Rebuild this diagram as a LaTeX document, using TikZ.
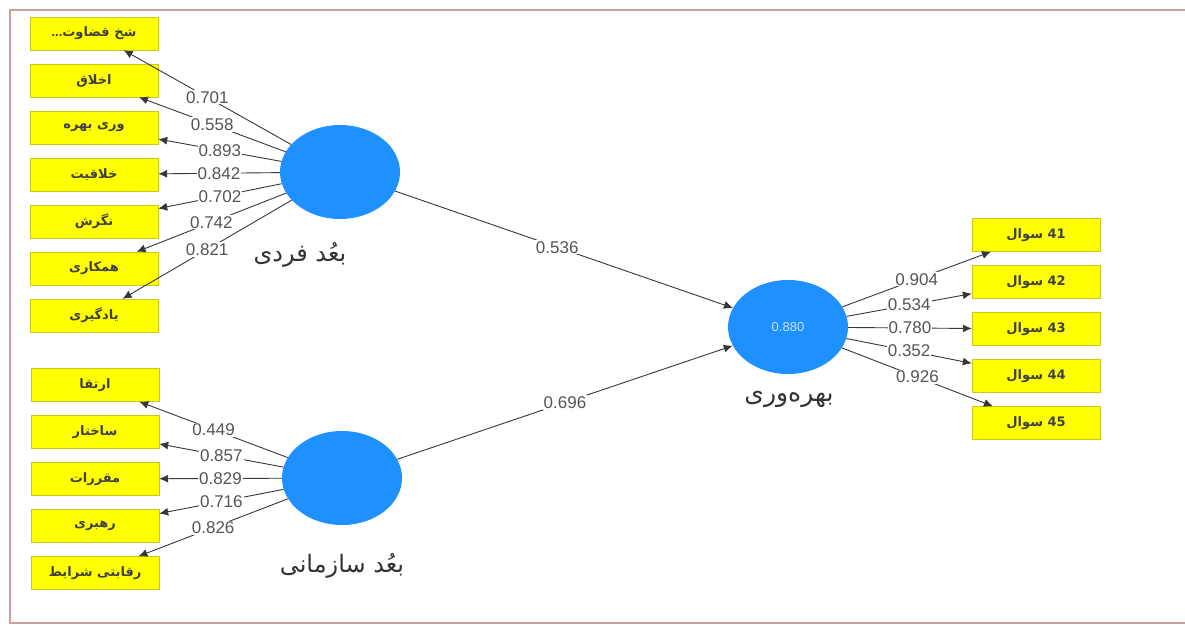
\documentclass[tikz,border=0pt]{standalone}
\usepackage{fontspec}
\setmainfont{Liberation Sans}
\newfontfamily\arabicfont[Script=Arabic]{DejaVu Sans}
\TeXXeTstate=1
\usetikzlibrary{positioning, arrows, arrows.meta, shapes.geometric}

\definecolor{lvblue}{RGB}{30,144,255}
\definecolor{lvlight}{RGB}{205,225,255}
\definecolor{mvyellow}{RGB}{255,255,0}
\definecolor{mvborder}{RGB}{200,200,30}
\definecolor{framepink}{RGB}{205,160,160}
\definecolor{linkgray}{RGB}{55,55,55}
\definecolor{numgray}{RGB}{85,85,85}

\newcommand{\fatext}[1]{{\arabicfont\beginR #1\endR}}

\begin{document}
\begin{tikzpicture}[x=1pt, y=1pt, node distance=13.6pt]
    \tikzstyle{every node}=[font=\fontsize{17}{19}\selectfont]
    \tikzset{
      ind/.style={draw=mvborder, fill=mvyellow, rectangle, minimum width=128pt,
        minimum height=33pt, inner sep=0pt, text=black!75,
        font=\fontsize{13}{15}\selectfont\bfseries},
      lat/.style={fill=lvblue, ellipse, minimum width=120pt, minimum height=94pt, inner sep=0pt},
      latname/.style={font=\fontsize{24}{28}\selectfont, text=black!80},
      coef/.style={fill=white, inner sep=1pt, text=numgray, pos=0.5},
      lnk/.style={-{Latex[length=9pt, width=8pt]}, draw=linkgray, line width=0.9pt}
    }
    \useasboundingbox (0,0) rectangle (1185,-628);
    \draw[framepink, line width=1.5pt] (1185,-10) -- (10,-10) -- (10,-623) -- (1185,-623);

    % individual dimension
    \node[ind]                     (qz)   at (94,-33.5) {...\fatext{شخ قضاوت}};
    \node[ind, below = of qz]      (akh)  {\fatext{اخلاق}};
    \node[ind, below = of akh]     (bv)   {\fatext{وری بهره}};
    \node[ind, below = of bv]      (khl)  {\fatext{خلاقیت}};
    \node[ind, below = of khl]     (ngr)  {\fatext{نگرش}};
    \node[ind, below = of ngr]     (hmk)  {\fatext{همکاری}};
    \node[ind, below = of hmk]     (ydg)  {\fatext{یادگیری}};

    % organisational dimension
    \node[ind]                     (ert)  at (95,-385) {\fatext{ارتقا}};
    \node[ind, below = of ert]     (skh)  {\fatext{ساختار}};
    \node[ind, below = of skh]     (mgh)  {\fatext{مقررات}};
    \node[ind, below = of mgh]     (rhb)  {\fatext{رهبری}};
    \node[ind, below = of rhb]     (shr)  {\fatext{رقابتی شرایط}};

    % productivity items
    \node[ind]                     (q41)  at (1036,-235) {\fatext{41 سوال}};
    \node[ind, below = of q41]     (q42)  {\fatext{42 سوال}};
    \node[ind, below = of q42]     (q43)  {\fatext{43 سوال}};
    \node[ind, below = of q43]     (q44)  {\fatext{44 سوال}};
    \node[ind, below = of q44]     (q45)  {\fatext{45 سوال}};

    % latent variables
    \node[lat] (fard) at (340,-172) {};
    \node[lat] (saz)  at (342,-478) {};
    \node[lat, text=lvlight, font=\fontsize{13}{15}\selectfont] (bah) at (788,-327) {0.880};
    \node[latname] (fardname) at (300,-255) {\fatext{بعُد فردی}};
    \node[latname] (sazname)  at (342,-566) {\fatext{بعُد سازمانی}};
    \node[latname, font=\fontsize{25}{29}\selectfont] (bahname) at (789,-399) {\fatext{بهره^^^^200cوری}};

    \draw[lnk] (fard) to node[coef] {0.701} (qz);
    \draw[lnk] (fard) to node[coef] {0.558} (akh);
    \draw[lnk] (fard) to node[coef] {0.893} (bv);
    \draw[lnk] (fard) to node[coef] {0.842} (khl);
    \draw[lnk] (fard) to node[coef] {0.702} (ngr);
    \draw[lnk] (fard) to node[coef] {0.742} (hmk);
    \draw[lnk] (fard) to node[coef] {0.821} (ydg);

    \draw[lnk] (saz) to node[coef] {0.449} (ert);
    \draw[lnk] (saz) to node[coef] {0.857} (skh);
    \draw[lnk] (saz) to node[coef] {0.829} (mgh);
    \draw[lnk] (saz) to node[coef] {0.716} (rhb);
    \draw[lnk] (saz) to node[coef] {0.826} (shr);

    \draw[lnk] (fard) to node[coef, pos=0.48] {0.536} (bah);
    \draw[lnk] (saz) to node[coef] {0.696} (bah);

    \draw[lnk] (bah) to node[coef] {0.904} (q41);
    \draw[lnk] (bah) to node[coef] {0.534} (q42);
    \draw[lnk] (bah) to node[coef] {0.780} (q43);
    \draw[lnk] (bah) to node[coef] {0.352} (q44);
    \draw[lnk] (bah) to node[coef] {0.926} (q45);
\end{tikzpicture}
\end{document}
